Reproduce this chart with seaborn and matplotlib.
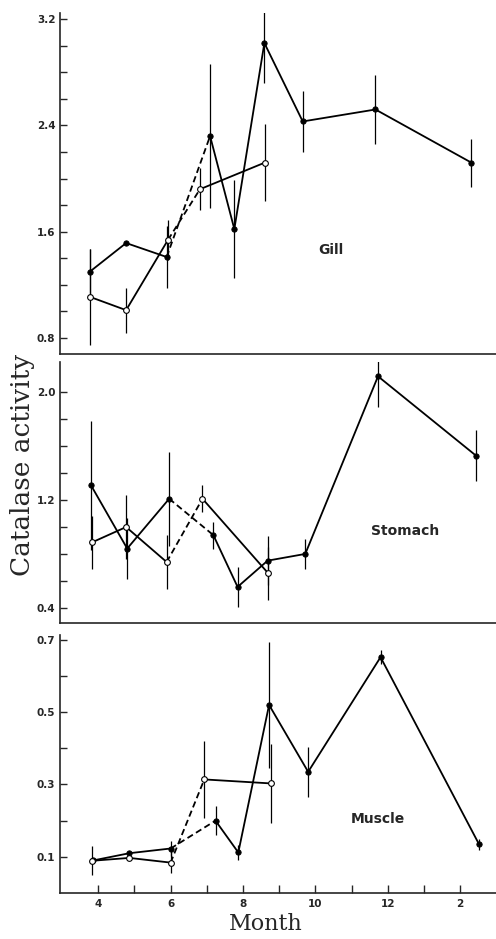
import matplotlib
matplotlib.use('Agg')
import matplotlib.pyplot as plt
import matplotlib.ticker as mticker
import numpy as np
import pandas as pd
import seaborn as sns

# Data (month of sampling; 13 = Jan, 14 = Feb)
gill_fill_month = [3.77, 4.77, 5.89, 7.09, 7.76, 8.59, 9.65, 11.66, 14.31]
gill_fill_val = [1.30, 1.515, 1.41, 2.32, 1.62, 3.02, 2.43, 2.52, 2.12]
gill_fill_err = [0.17, 0.0, 0.23, 0.54, 0.37, 0.30, 0.23, 0.26, 0.18]
gill_open_month = [3.77, 4.77, 5.93, 6.81, 8.60]
gill_open_val = [1.11, 1.01, 1.54, 1.92, 2.12]
gill_open_err = [0.36, 0.17, 0.15, 0.16, 0.29]

sto_fill_month = [3.80, 4.80, 5.96, 7.18, 7.85, 8.68, 9.72, 11.73, 14.44]
sto_fill_val = [1.31, 0.84, 1.21, 0.94, 0.555, 0.75, 0.80, 2.12, 1.53]
sto_fill_err = [0.48, 0.23, 0.35, 0.10, 0.15, 0.18, 0.11, 0.23, 0.19]
sto_open_month = [3.82, 4.77, 5.89, 6.88, 8.70]
sto_open_val = [0.885, 1.00, 0.74, 1.21, 0.655]
sto_open_err = [0.20, 0.24, 0.20, 0.10, 0.20]

mus_fill_month = [3.86, 4.86, 6.00, 7.24, 7.87, 8.72, 9.80, 11.80, 14.52]
mus_fill_val = [0.09, 0.11, 0.123, 0.20, 0.112, 0.52, 0.335, 0.652, 0.135]
mus_fill_err = [0.0, 0.0, 0.02, 0.04, 0.02, 0.175, 0.07, 0.02, 0.015]
mus_open_month = [3.82, 4.86, 6.00, 6.93, 8.76]
mus_open_val = [0.089, 0.097, 0.084, 0.314, 0.303]
mus_open_err = [0.04, 0.0, 0.03, 0.106, 0.11]

month_ticks = [4, 6, 8, 10, 12, 14]
month_labels = ['4', '6', '8', '10', '12', '2']

sns.set_style('ticks')
plt.rcParams['font.family'] = ['DejaVu Sans']


def segments(month, val, name):
    # solid up to 3rd point, dashed to 4th, solid afterwards
    rows = []
    parts = [(0, 3, 'solid'), (2, 4, 'dashed'), (3, len(month), 'solid')]
    for k, (a, b, ls) in enumerate(parts):
        for m, v in zip(month[a:b], val[a:b]):
            rows.append({'month': m, 'value': v, 'seg': f'{name}{k}', 'ls': ls})
    return rows


def draw_panel(ax, fill, opn, ylim, major, minor, label, label_pos):
    fm, fv, fe = fill
    om, ov, oe = opn
    df = pd.DataFrame(segments(fm, fv, 'f') + segments(om, ov, 'o'))
    sns.lineplot(data=df, x='month', y='value', units='seg', estimator=None,
                 style='ls', dashes={'solid': '', 'dashed': (3.5, 2)},
                 color='black', linewidth=1.3, legend=False, ax=ax, sort=False)
    ax.errorbar(fm, fv, yerr=fe, fmt='none', ecolor='black', elinewidth=0.9, capsize=0)
    ax.errorbar(om, ov, yerr=oe, fmt='none', ecolor='black', elinewidth=0.9, capsize=0)
    sns.scatterplot(x=fm, y=fv, ax=ax, color='black', s=15, edgecolor='black',
                    linewidth=0.6, zorder=5)
    sns.scatterplot(x=om, y=ov, ax=ax, color='white', s=17, edgecolor='black',
                    linewidth=0.8, zorder=5)
    ax.set_xlim(2.93, 14.99)
    ax.set_ylim(*ylim)
    ax.yaxis.set_major_locator(mticker.FixedLocator(major))
    ax.yaxis.set_minor_locator(mticker.FixedLocator(minor))
    ax.yaxis.set_major_formatter(mticker.FormatStrFormatter('%.1f'))
    ax.tick_params(axis='y', which='both', direction='in', length=5, width=1,
                   labelsize=7.5, pad=3)
    for t in ax.get_yticklabels():
        t.set_fontweight('bold')
    ax.spines['top'].set_visible(False)
    ax.spines['right'].set_visible(False)
    ax.spines['left'].set_linewidth(1.2)
    ax.spines['bottom'].set_linewidth(1.2)
    ax.set_xlabel('')
    ax.set_ylabel('')
    ax.text(label_pos[0], label_pos[1], label, ha='center', va='center',
            fontsize=10, fontweight='bold')


fig = plt.figure(figsize=(4.96, 9.39), dpi=100)
ax1 = fig.add_axes([0.12, 0.623, 0.88, 0.363])
ax2 = fig.add_axes([0.12, 0.337, 0.88, 0.278])
ax3 = fig.add_axes([0.12, 0.049, 0.88, 0.275])

draw_panel(ax1, (gill_fill_month, gill_fill_val, gill_fill_err),
           (gill_open_month, gill_open_val, gill_open_err),
           (0.68, 3.245), [0.8, 1.6, 2.4, 3.2],
           [1.0, 1.2, 1.4, 1.8, 2.0, 2.2, 2.6, 2.8, 3.0], 'Gill', (10.43, 1.465))
draw_panel(ax2, (sto_fill_month, sto_fill_val, sto_fill_err),
           (sto_open_month, sto_open_val, sto_open_err),
           (0.29, 2.23), [0.4, 1.2, 2.0],
           [0.6, 0.8, 1.0, 1.4, 1.6, 1.8], 'Stomach', (12.49, 0.97))
draw_panel(ax3, (mus_fill_month, mus_fill_val, mus_fill_err),
           (mus_open_month, mus_open_val, mus_open_err),
           (0.0, 0.714), [0.1, 0.3, 0.5, 0.7],
           [0.2, 0.4, 0.6], 'Muscle', (11.73, 0.204))

for ax in (ax1, ax2):
    ax.tick_params(axis='x', which='both', bottom=False, labelbottom=False)

ax3.xaxis.set_major_locator(mticker.FixedLocator(month_ticks))
ax3.xaxis.set_minor_locator(mticker.FixedLocator([5, 7, 9, 11, 13, 15]))
ax3.set_xticklabels(month_labels)
ax3.tick_params(axis='x', which='both', direction='in', length=6, width=1,
                labelsize=7.5, pad=4)
for t in ax3.get_xticklabels():
    t.set_fontweight('bold')

fig.text(0.046, 0.505, 'Catalase activity', rotation=90, ha='center', va='center',
         fontsize=19, family='DejaVu Serif')
fig.text(0.535, 0.016, 'Month', ha='center', va='center', fontsize=16,
         family='DejaVu Serif')

fig.savefig('out.png', dpi=100)
